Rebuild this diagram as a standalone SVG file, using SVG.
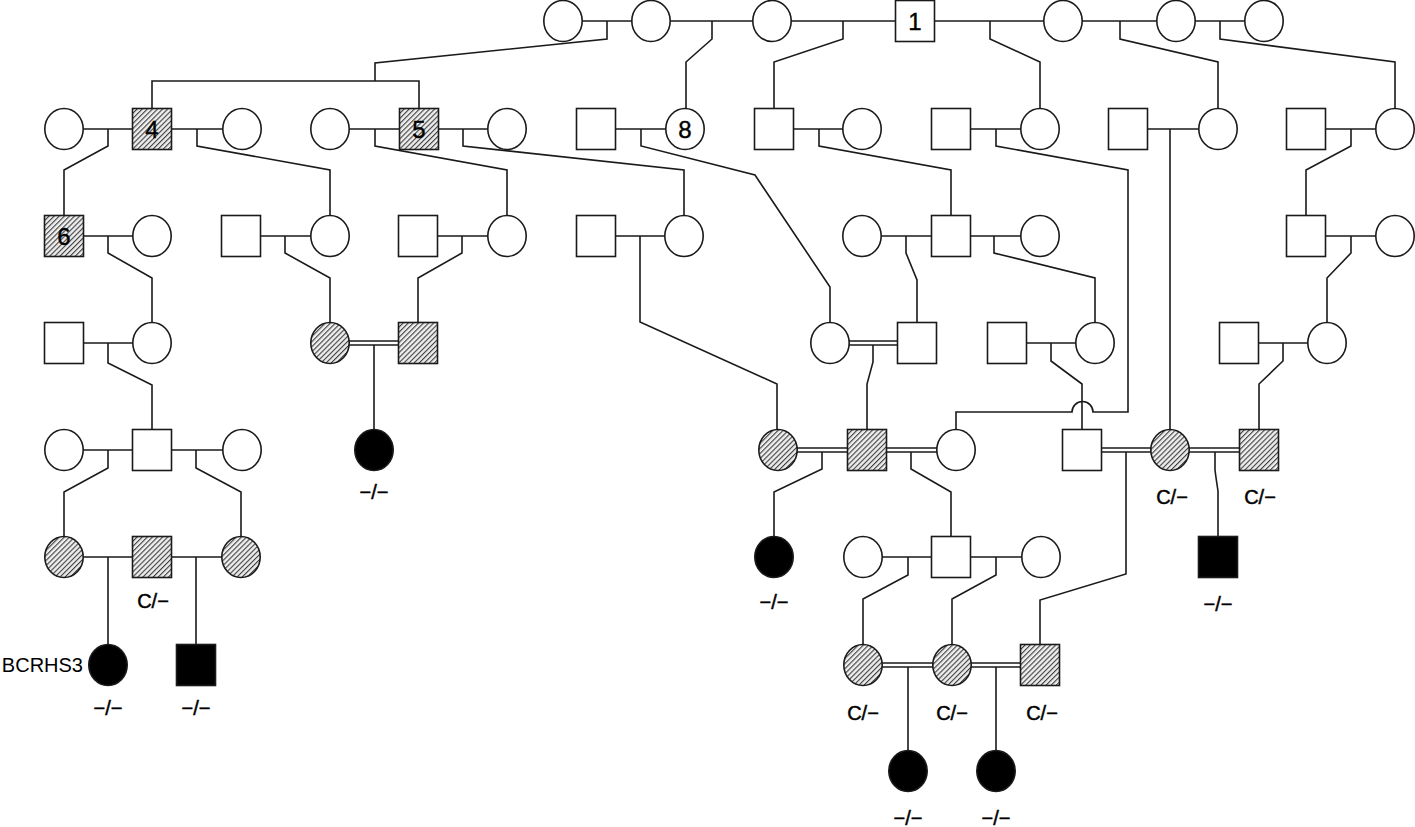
<svg xmlns="http://www.w3.org/2000/svg" width="1415" height="827" viewBox="0 0 1415 827">
<style>
.bg{fill:#ffffff}
.ln{fill:none;stroke:#1a1a1a;stroke-width:1.6}
.n{fill:#ffffff;stroke:#1a1a1a;stroke-width:1.6}
.h{fill:url(#hatch);stroke:#1a1a1a;stroke-width:1.6}
.a{fill:#000000;stroke:#1a1a1a;stroke-width:1.6}
.num{font-family:"Liberation Sans",Arial,sans-serif;font-size:24px;fill:#000;stroke:#000;stroke-width:0.4;text-anchor:middle}
.lb{font-family:"Liberation Sans",Arial,sans-serif;font-size:20px;fill:#000;stroke:#000;stroke-width:0.5;text-anchor:middle}
.nm{font-family:"Liberation Sans",Arial,sans-serif;font-size:20px;fill:#000;text-anchor:end}
</style>
<defs>
<pattern id="hatch" patternUnits="userSpaceOnUse" width="3.6" height="3.6" patternTransform="rotate(45)">
<rect x="0" y="0" width="3.6" height="3.6" fill="#eeeeee"/>
<line x1="0.6" y1="0" x2="0.6" y2="3.6" stroke="#2a2a2a" stroke-width="1"/>
</pattern>
<rect id="sq" x="-19.5" y="-20.5" width="39" height="41"/>
<ellipse id="ci" cx="0" cy="0" rx="19.2" ry="20.5"/>
</defs>
<rect class="bg" x="0" y="0" width="1415" height="827"/>

<g id="connectors" class="ln">
<!-- marriage lines -->
<path d="M563,21 H1264"/>
<path d="M64,129 H242 M330,129 H507 M596,129 H685 M774,129 H862 M951,129 H1040 M1128,129 H1218 M1306,129 H1395"/>
<path d="M64,236 H152 M241,236 H330 M418,236 H507 M596,236 H684 M862,236 H1040 M1306,236 H1395"/>
<path d="M64,343 H152 M1007,343 H1095 M1239,343 H1327"/>
<path d="M330,341 H418 M330,345 H418 M830,341 H917 M830,345 H917"/>
<path d="M64,450 H242"/>
<path d="M778,448 H956 M778,452 H956 M1082,448 H1259 M1082,452 H1259"/>
<path d="M64,557 H241 M863,557 H1041"/>
<path d="M863,663 H1040 M863,667 H1040"/>
<!-- row 1 descents -->
<path d="M607,21 V39 L375,63 V81 M152,108.5 V81 H419 V108.5"/>
<path d="M712,21 V39 L686,62 V108.5"/>
<path d="M843,21 V39 L774,62 V108.5"/>
<path d="M990,21 V39 L1040,62 V108.5"/>
<path d="M1120,21 V39 L1218,62 V108.5"/>
<path d="M1220,21 V39 L1395,62 V108.5"/>
<!-- row 2 descents -->
<path d="M108,129 V146 L64,170 V215.5"/>
<path d="M197,129 V146 L330,170 V215.5"/>
<path d="M375,129 V146 L507,170 V215.5"/>
<path d="M463,129 V146 L684,170 V215.5"/>
<path d="M641,129 V146 L755,175 L830,287 V322.5"/>
<path d="M819,129 V146 L951,170 V215.5"/>
<path d="M996,129 V146 L1128,170 V412 H1093 A10.5,10.5 0 0 0 1072,412 H956 V429.5"/>
<path d="M1170,129 V429.5"/>
<path d="M1351,129 V146 L1306,170 V215.5"/>
<!-- row 3 descents -->
<path d="M108,236 V253 L152,278 V322.5"/>
<path d="M285,236 V253 L330,278 V322.5"/>
<path d="M462,236 V253 L418,278 V322.5"/>
<path d="M640,236 V322 L777,384 V429.5"/>
<path d="M906,236 V253 L917,280 V322.5"/>
<path d="M994,236 V253 L1095,278 V322.5"/>
<path d="M1351,236 V253 L1327,278 V322.5"/>
<!-- row 4 descents -->
<path d="M108,343 V363 L152,385 V429.5"/>
<path d="M374,345 V429.5"/>
<path d="M873,345 V362 L867,384 V429.5"/>
<path d="M1051,343 V361 L1082,384 V429.5"/>
<path d="M1283,343 V361 L1259,384 V429.5"/>
<!-- row 5 descents -->
<path d="M108,450 V468 L64,492 V536.5"/>
<path d="M196,450 V468 L241,492 V536.5"/>
<path d="M822,452 V469 L774,492 V536.5"/>
<path d="M911,452 V469 L951,492 V536.5"/>
<path d="M1126,452 V574 L1040,600 V644.5"/>
<path d="M1215,452 V470 Q1216,478 1218,491 V536.5"/>
<!-- row 6 descents -->
<path d="M108,557 V644.5"/>
<path d="M196,557 V644.5"/>
<path d="M908,557 V575 L863,599 V644.5"/>
<path d="M996,557 V575 L952,599 V644.5"/>
<!-- row 7 descents -->
<path d="M908,667 V750.5"/>
<path d="M996,667 V750.5"/>
</g>

<!-- Row 1 -->
<g id="r1a"><use href="#ci" class="n" x="563" y="21"/></g>
<g id="r1b"><use href="#ci" class="n" x="651" y="21"/></g>
<g id="r1c"><use href="#ci" class="n" x="772" y="21"/></g>
<g id="p1"><use href="#sq" class="n" x="915" y="21"/><text class="num" x="915" y="30">1</text></g>
<g id="r1d"><use href="#ci" class="n" x="1063" y="21"/></g>
<g id="r1e"><use href="#ci" class="n" x="1176" y="21"/></g>
<g id="r1f"><use href="#ci" class="n" x="1264" y="21"/></g>

<!-- Row 2 -->
<g id="r2a"><use href="#ci" class="n" x="64" y="129"/></g>
<g id="p4"><use href="#sq" class="h" x="152" y="129"/><text class="num" x="152" y="138">4</text></g>
<g id="r2b"><use href="#ci" class="n" x="242" y="129"/></g>
<g id="r2c"><use href="#ci" class="n" x="330" y="129"/></g>
<g id="p5"><use href="#sq" class="h" x="419" y="129"/><text class="num" x="419" y="138">5</text></g>
<g id="r2d"><use href="#ci" class="n" x="507" y="129"/></g>
<g id="r2e"><use href="#sq" class="n" x="596" y="129"/></g>
<g id="p8"><use href="#ci" class="n" x="685" y="129"/><text class="num" x="685" y="138">8</text></g>
<g id="r2f"><use href="#sq" class="n" x="774" y="129"/></g>
<g id="r2g"><use href="#ci" class="n" x="862" y="129"/></g>
<g id="r2h"><use href="#sq" class="n" x="951" y="129"/></g>
<g id="r2i"><use href="#ci" class="n" x="1040" y="129"/></g>
<g id="r2j"><use href="#sq" class="n" x="1128" y="129"/></g>
<g id="r2k"><use href="#ci" class="n" x="1218" y="129"/></g>
<g id="r2l"><use href="#sq" class="n" x="1306" y="129"/></g>
<g id="r2m"><use href="#ci" class="n" x="1395" y="129"/></g>

<!-- Row 3 -->
<g id="p6"><use href="#sq" class="h" x="64" y="236"/><text class="num" x="64" y="245">6</text></g>
<g id="r3a"><use href="#ci" class="n" x="152" y="236"/></g>
<g id="r3b"><use href="#sq" class="n" x="241" y="236"/></g>
<g id="r3c"><use href="#ci" class="n" x="330" y="236"/></g>
<g id="r3d"><use href="#sq" class="n" x="418" y="236"/></g>
<g id="r3e"><use href="#ci" class="n" x="507" y="236"/></g>
<g id="r3f"><use href="#sq" class="n" x="596" y="236"/></g>
<g id="r3g"><use href="#ci" class="n" x="684" y="236"/></g>
<g id="r3h"><use href="#ci" class="n" x="862" y="236"/></g>
<g id="r3i"><use href="#sq" class="n" x="951" y="236"/></g>
<g id="r3j"><use href="#ci" class="n" x="1040" y="236"/></g>
<g id="r3k"><use href="#sq" class="n" x="1306" y="236"/></g>
<g id="r3l"><use href="#ci" class="n" x="1395" y="236"/></g>

<!-- Row 4 -->
<g id="r4a"><use href="#sq" class="n" x="64" y="343"/></g>
<g id="r4b"><use href="#ci" class="n" x="152" y="343"/></g>
<g id="r4c"><use href="#ci" class="h" x="330" y="343"/></g>
<g id="r4d"><use href="#sq" class="h" x="418" y="343"/></g>
<g id="r4e"><use href="#ci" class="n" x="830" y="343"/></g>
<g id="r4f"><use href="#sq" class="n" x="917" y="343"/></g>
<g id="r4g"><use href="#sq" class="n" x="1007" y="343"/></g>
<g id="r4h"><use href="#ci" class="n" x="1095" y="343"/></g>
<g id="r4i"><use href="#sq" class="n" x="1239" y="343"/></g>
<g id="r4j"><use href="#ci" class="n" x="1327" y="343"/></g>

<!-- Row 5 -->
<g id="r5a"><use href="#ci" class="n" x="64" y="450"/></g>
<g id="r5b"><use href="#sq" class="n" x="152" y="450"/></g>
<g id="r5c"><use href="#ci" class="n" x="242" y="450"/></g>
<g id="r5d"><use href="#ci" class="a" x="374" y="450"/><text class="lb" x="374" y="499">−/−</text></g>
<g id="r5e"><use href="#ci" class="h" x="778" y="450"/></g>
<g id="r5f"><use href="#sq" class="h" x="867" y="450"/></g>
<g id="r5g"><use href="#ci" class="n" x="956" y="450"/></g>
<g id="r5h"><use href="#sq" class="n" x="1082" y="450"/></g>
<g id="r5i"><use href="#ci" class="h" x="1170" y="450"/><text class="lb" x="1172" y="504">C/−</text></g>
<g id="r5j"><use href="#sq" class="h" x="1259" y="450"/><text class="lb" x="1260" y="504">C/−</text></g>

<!-- Row 6 -->
<g id="r6a"><use href="#ci" class="h" x="64" y="557"/></g>
<g id="r6b"><use href="#sq" class="h" x="152" y="557"/><text class="lb" x="153" y="608">C/−</text></g>
<g id="r6c"><use href="#ci" class="h" x="241" y="557"/></g>
<g id="r6d"><use href="#ci" class="a" x="774" y="557"/><text class="lb" x="774" y="609">−/−</text></g>
<g id="r6e"><use href="#ci" class="n" x="863" y="557"/></g>
<g id="r6f"><use href="#sq" class="n" x="951" y="557"/></g>
<g id="r6g"><use href="#ci" class="n" x="1041" y="557"/></g>
<g id="r6h"><use href="#sq" class="a" x="1218" y="557"/><text class="lb" x="1218" y="611">−/−</text></g>

<!-- Row 7 -->
<g id="r7a"><use href="#ci" class="a" x="108" y="665"/><text class="nm" x="83" y="672">BCRHS3</text><text class="lb" x="108" y="715">−/−</text></g>
<g id="r7b"><use href="#sq" class="a" x="196" y="665"/><text class="lb" x="196" y="715">−/−</text></g>
<g id="r7c"><use href="#ci" class="h" x="863" y="665"/><text class="lb" x="863" y="720">C/−</text></g>
<g id="r7d"><use href="#ci" class="h" x="952" y="665"/><text class="lb" x="952" y="720">C/−</text></g>
<g id="r7e"><use href="#sq" class="h" x="1040" y="665"/><text class="lb" x="1042" y="720">C/−</text></g>

<!-- Row 8 -->
<g id="r8a"><use href="#ci" class="a" x="908" y="771"/><text class="lb" x="908" y="825">−/−</text></g>
<g id="r8b"><use href="#ci" class="a" x="996" y="771"/><text class="lb" x="996" y="825">−/−</text></g>
</svg>
